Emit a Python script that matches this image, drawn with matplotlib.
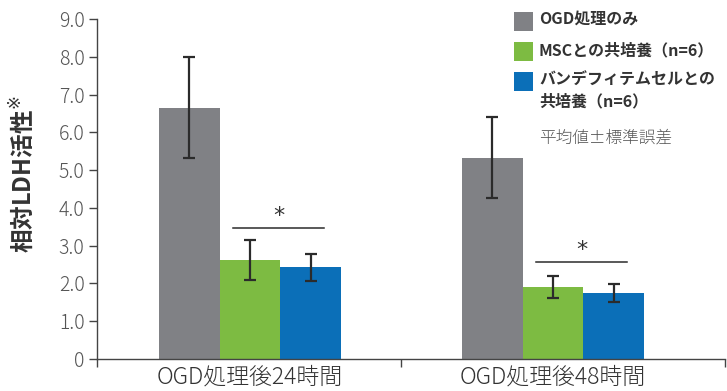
import matplotlib.pyplot as plt
from matplotlib.patches import Rectangle
from matplotlib.ticker import FuncFormatter
import numpy as np

plt.rcParams['font.family'] = ['Noto Sans CJK JP', 'DejaVu Sans']

groups = ['OGD処理後24時間', 'OGD処理後48時間']
series = ['OGD処理のみ', 'MSCとの共培養（n=6）', 'バンデフィテムセルとの\n共培養（n=6）']
colors = ['#808185', '#7dbb42', '#0b6fb8']

means = [
    [6.65, 5.33],   # OGD処理のみ
    [2.62, 1.91],   # MSC
    [2.43, 1.75],   # バンデフィテムセル
]
sem = [
    [1.34, 1.07],
    [0.52, 0.29],
    [0.36, 0.24],
]
sig_heights = [3.46, 2.56]

fig = plt.figure(figsize=(7.27, 3.91), dpi=100)
ax = fig.add_axes([97 / 727, 1 - 359 / 391, (725 - 97) / 727, (359 - 19) / 391])

x = np.arange(len(groups))
w = 0.2
for i in range(3):
    ax.bar(x + (i - 1) * w, means[i], w, color=colors[i], linewidth=0)
    ax.errorbar(x + (i - 1) * w, means[i], yerr=sem[i], fmt='none',
                ecolor='#2b2b2b', elinewidth=1.6, capsize=4, capthick=1.6)

# significance bars between the two co-culture groups
for gx, h in zip(x, sig_heights):
    ax.plot([gx - 0.055, gx + 0.245], [h, h], color='#2b2b2b', lw=1.1)
    ax.text(gx + 0.095, h + 0.05, '*', ha='center', va='bottom',
            fontsize=16, color='#333333', family='DejaVu Sans')

ax.set_ylim(0, 9)
ax.set_xlim(-0.505, 1.568)
ax.set_yticks(np.arange(0, 10, 1))
ax.yaxis.set_major_formatter(FuncFormatter(lambda v, p: '0' if v == 0 else f'{v:.1f}'))
ax.set_xticks([-0.505, 0.5, 1.568])
ax.set_xticklabels([])
ax.set_xticks(x, minor=True)
ax.set_xticklabels(groups, minor=True, fontsize=16.5, color='#333333', fontweight='light')
ax.tick_params(axis='x', which='minor', length=0, pad=4)
ax.tick_params(axis='x', which='major', length=6, width=1, color='#444444')
ax.tick_params(axis='y', length=6, width=1, color='#444444', labelsize=14,
               labelcolor='#555555', pad=3)
for lab in ax.get_yticklabels():
    lab.set_fontweight('light')
for s in ['top', 'right']:
    ax.spines[s].set_visible(False)
for s in ['left', 'bottom']:
    ax.spines[s].set_color('#444444')
    ax.spines[s].set_linewidth(1)

fig.text(22 / 727, 1 - 174 / 391, '相対LDH活性$^{※}$', rotation=90, ha='center',
         va='center', fontsize=17, fontweight='bold', color='#333333')

# legend drawn by hand so the square sits on the first line
rows_y = [21.5, 51.5, 81.5]
for c, label, yy in zip(colors, series, rows_y):
    fig.patches.append(Rectangle((514 / 727, 1 - (yy + 9.5) / 391), 19 / 727, 19 / 391,
                                 transform=fig.transFigure, color=c, lw=0))
    fig.text(539 / 727, 1 - (yy - 9.5) / 391, label, ha='left', va='top',
             fontsize=11.5, fontweight='bold', color='#333333', linespacing=1.45)
fig.text(539 / 727, 1 - 138 / 391, '平均値±標準誤差', ha='left', va='center',
         fontsize=12, color='#555555', fontweight='light')

fig.savefig('out.png', dpi=100)
